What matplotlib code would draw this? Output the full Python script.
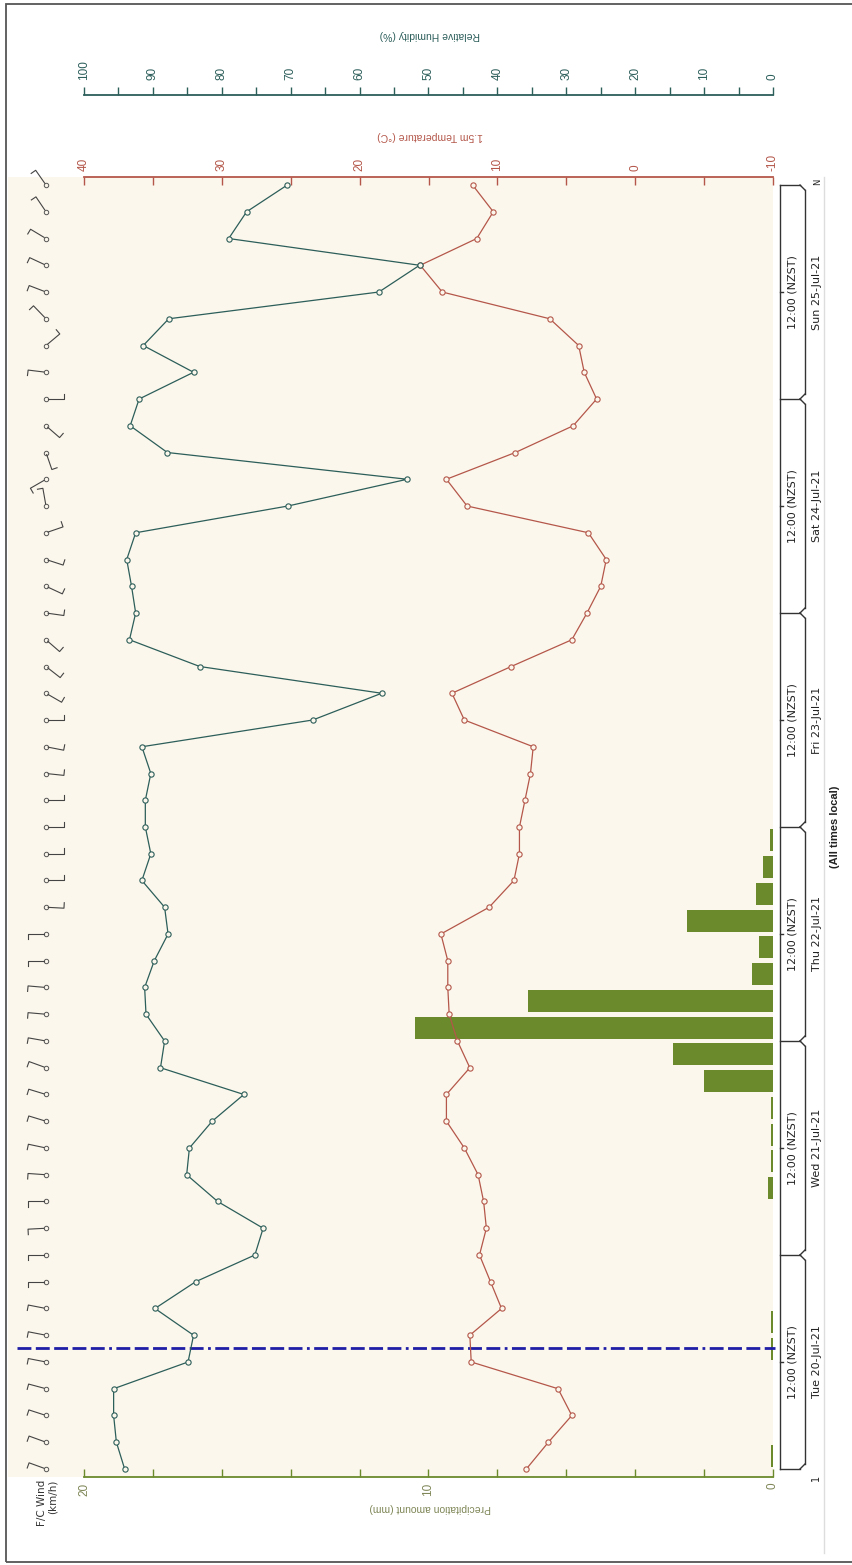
import numpy as np
import matplotlib.pyplot as plt
import matplotlib.transforms as mtransforms
from matplotlib.lines import Line2D
from matplotlib.patches import Rectangle

# figure size in pixels
W, H = 853, 1565

# 3-hourly forecast steps, hours after Tue 20-Jul-21 00:00
hours = list(range(0, 145, 3))
humidity = [94.1, 95.3, 95.7, 95.7, 84.9, 84.1, 89.7, 83.8,
            75.2, 74.0, 80.6, 85.1, 84.7, 81.4, 76.8, 88.9,
            88.3, 91.0, 91.2, 89.8, 87.8, 88.3, 91.6, 90.3,
            91.1, 91.1, 90.3, 91.6, 66.8, 56.8, 83.2, 93.4,
            92.5, 93.1, 93.8, 92.5, 70.4, 53.1, 87.9, 93.3,
            92.0, 84.1, 91.4, 87.7, 57.2, 51.3, 79.0, 76.4, 70.5]
temperature = [7.9, 6.3, 4.6, 5.6, 11.9, 12.0, 9.7, 10.5,
               11.3, 10.8, 11.0, 11.4, 12.4, 13.7, 13.7, 12.0,
               12.9, 13.5, 13.6, 13.6, 14.1, 10.6, 8.8, 8.4,
               8.4, 8.0, 7.6, 7.4, 12.4, 13.3, 9.0, 4.6,
               3.5, 2.5, 2.1, 3.4, 12.2, 13.7, 8.7, 4.5,
               2.8, 3.7, 4.1, 6.2, 14.0, 15.6, 11.5, 10.3, 11.8]
# 3h precipitation totals for each interval between steps
precip = [0.05, 0, 0, 0, 0.05, 0.05, 0, 0,
          0, 0, 0.15, 0.05, 0.05, 0.05, 2.0, 2.9,
          10.4, 7.1, 0.6, 0.4, 2.5, 0.5, 0.3, 0.1,
          0, 0, 0, 0, 0, 0, 0, 0,
          0, 0, 0, 0, 0, 0, 0, 0,
          0, 0, 0, 0, 0, 0, 0, 0]
# wind barb direction as drawn (degrees, counter-clockwise from +x)
wind_dir = [160, 160, 162, 165, 169, 169, 169, 180,
            180, 183, 180, 176, 168, 163, 163, 160,
            170, 175, 175, 180, 180, -3, 0, 0,
            0, 0, -6, -11, 0, -30, -38, -41,
            -8, -25, -18, 19, 100, 210, -71, -41,
            0, 173, 40, 134, 159, 155, 149, 124, 125]
now_hour = 13.6
days = ['Tue 20-Jul-21', 'Wed 21-Jul-21', 'Thu 22-Jul-21',
        'Fri 23-Jul-21', 'Sat 24-Jul-21', 'Sun 25-Jul-21']

cream = '#FCF7EC'
c_hum = '#2C5E5A'
c_temp = '#B4574A'
c_rain = '#6B8A2C'
c_rain_txt = '#7E8656'
c_dark = '#333333'

fig = plt.figure(figsize=(W / 100, H / 100), dpi=100)
fig.patch.set_facecolor('white')

# plot area in pixels
L, R, T, B = 8, 773, 177, 1477
ax = fig.add_axes([L / W, 1 - B / H, (R - L) / W, (B - T) / H])
ax.set_facecolor(cream)
ax.set_xlim((R - L) / ((R - 84) / 20), 0)
ax.set_ylim(-0.9, 144.9)
for s in ['left', 'right', 'top']:
    ax.spines[s].set_visible(False)
ax.spines['bottom'].set_color(c_rain)
ax.spines['bottom'].set_linewidth(1.3)
ax.spines['bottom'].set_bounds(0, 20)
ax.set_yticks([])
ax.set_xticks(np.arange(0, 21, 2))
ax.set_xticklabels([str(v) if v % 10 == 0 else '' for v in range(0, 21, 2)])
ax.tick_params(axis='x', direction='in', length=5.5, width=1, color=c_rain,
               labelcolor=c_rain_txt, labelsize=8.5, labelrotation=90, pad=4)
for t in ax.get_xticklabels():
    t.set_family('Liberation Sans')

# precipitation bars
centers = [h + 1.5 for h in hours[:-1]]
ax.barh(centers, precip, height=2.45, left=0, color=c_rain, zorder=2)

# temperature axis
axt = ax.twiny()
axt.set_xlim(-10 + (R - L) / ((R - 84) / 50), -10)
axt.set_ylim(ax.get_ylim())
for s in ['left', 'right', 'bottom']:
    axt.spines[s].set_visible(False)
axt.spines['top'].set_color(c_temp)
axt.spines['top'].set_linewidth(1.3)
axt.spines['top'].set_bounds(-10, 40)
axt.set_xticks(np.arange(-10, 41, 5))
axt.set_xticklabels([str(v) if v % 10 == 0 else '' for v in range(-10, 41, 5)])
axt.tick_params(axis='x', direction='in', length=5.5, width=1, color=c_temp,
                labelcolor=c_temp, labelsize=8.5, labelrotation=90, pad=4)
for t in axt.get_xticklabels():
    t.set_family('Liberation Sans')
axt.plot(temperature, hours, color=c_temp, lw=0.9, marker='o', ms=3.8,
         mfc=cream, mec=c_temp, mew=0.8, zorder=3)

# humidity axis
axh = ax.twiny()
axh.set_xlim((R - L) / ((R - 84) / 100), 0)
axh.set_ylim(ax.get_ylim())
for s in ['left', 'right', 'bottom']:
    axh.spines[s].set_visible(False)
axh.spines['top'].set_position(('outward', 59))
axh.spines['top'].set_color(c_hum)
axh.spines['top'].set_linewidth(1.3)
axh.spines['top'].set_bounds(0, 100)
axh.set_xticks(np.arange(0, 101, 5))
axh.set_xticklabels([str(v) if v % 10 == 0 else '' for v in range(0, 101, 5)])
axh.tick_params(axis='x', direction='out', length=6, width=1, color=c_hum,
                labelcolor=c_hum, labelsize=8.5, labelrotation=90, pad=5)
for t in axh.get_xticklabels():
    t.set_family('Liberation Sans')
axh.plot(humidity, hours, color=c_hum, lw=0.9, marker='o', ms=3.8,
         mfc=cream, mec=c_hum, mew=0.8, zorder=3)

# "now" line
ax.axhline(now_hour, xmin=(17 - L) / (R - L), xmax=1.003, color='#1E1EA6',
           lw=2.0, dashes=[5, 1.6, 5, 1.6, 5, 1.6, 5, 1.6, 5, 1.6, 1, 1.6],
           zorder=4, clip_on=False)

# axis titles
fig.text(430 / W, 1 - 35 / H, 'Relative Humidity (%)', rotation=180,
         ha='center', va='center', color=c_hum, fontsize=7.5, family='Liberation Sans')
fig.text(430 / W, 1 - 136 / H, '1.5m Temperature (°C)', rotation=180,
         ha='center', va='center', color=c_temp, fontsize=7.5, family='Liberation Sans')
fig.text(430 / W, 1 - 1508 / H, 'Precipitation amount (mm)', rotation=180,
         ha='center', va='center', color=c_rain_txt, fontsize=7.5, family='Liberation Sans')
fig.text(47 / W, 1 - 1503 / H, 'F/C Wind\n(km/h)', rotation=90, ha='center',
         va='center', multialignment='right', color=c_dark, fontsize=7.5,
         family='DejaVu Sans', linespacing=1.1)

# wind barbs
wind_x = (R - 46) / ((R - 84) / 20)
ax.plot([wind_x] * len(hours), hours, 'o', ms=3.2, mfc='none', mec='#555555',
        mew=0.7, zorder=3, clip_on=False)
ident = mtransforms.IdentityTransform()
for h, a in zip(hours, wind_dir):
    x0, y0 = ax.transData.transform((wind_x, h))
    r = np.radians(a)
    x1, y1 = x0 + 18 * np.cos(r), y0 + 18 * np.sin(r)
    x0s, y0s = x0 + 2.2 * np.cos(r), y0 + 2.2 * np.sin(r)
    f = r + np.radians(90)
    x2, y2 = x1 + 5.5 * np.cos(f), y1 + 5.5 * np.sin(f)
    fig.add_artist(Line2D([x0s, x1, x2], [y0s, y1, y2], color='#444444',
                          lw=0.8, transform=ident))

# time axis brackets on the right
blend = mtransforms.blended_transform_factory(ax.transAxes, ax.transData)


def axx(p):
    return (p - L) / (R - L)


arm = 0.56
kw = dict(transform=blend, clip_on=False, color=c_dark, lw=1.0)
ax.plot([axx(780), axx(780)], [0, 144], **kw)
for d in range(7):
    b = 24 * d
    ax.plot([axx(780), axx(800)], [b, b], **kw)
    if d < 6:
        ax.plot([axx(800), axx(805)], [b, b + arm], **kw)
    if d > 0:
        ax.plot([axx(800), axx(805)], [b, b - arm], **kw)
for d, lab in enumerate(days):
    b = 24 * d
    ax.plot([axx(805), axx(805)], [b + arm, b + 24 - arm], **kw)
    ax.plot([axx(780), axx(783.5)], [b + 12, b + 12], **kw)
    ax.text(axx(793), b + 12, '12:00 (NZST)', transform=blend, rotation=90,
            ha='center', va='center', fontsize=8, color='#222222', family='DejaVu Sans')
    ax.text(axx(817), b + 12, lab, transform=blend, rotation=90,
            ha='center', va='center', fontsize=8, color='#222222', family='DejaVu Sans')
ax.text(axx(816), -1.0, '1', transform=blend, rotation=90, ha='center',
        va='center', fontsize=7, color='#222222', family='DejaVu Sans')
ax.text(axx(818), 144.4, 'N', transform=blend, rotation=90, ha='center',
        va='center', fontsize=6, color='#222222', family='DejaVu Sans')
ax.text(axx(835), 72, '(All times local)', transform=blend, rotation=90,
        ha='center', va='center', fontsize=8, fontweight='bold', color='#222222',
        family='Liberation Sans')

# light separator and outer frame
fig.add_artist(Line2D([824 / W, 824 / W], [1 - 177 / H, 1 - 1553 / H],
                      color='#DDDDDD', lw=1.0, transform=fig.transFigure))
fig.add_artist(Rectangle((6 / W, 1 - 1562 / H), 2.0, (1562 - 4) / H,
                         fill=False, ec='#555555', lw=1.3,
                         transform=fig.transFigure))

fig.savefig('out.png', dpi=100, facecolor='white')
